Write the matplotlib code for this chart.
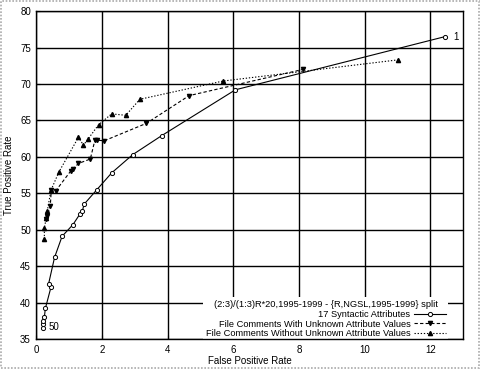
import matplotlib
matplotlib.use('Agg')
import matplotlib.pyplot as plt
from matplotlib.lines import Line2D
from matplotlib.patches import Rectangle

plt.rcParams['font.family'] = ['Liberation Sans', 'DejaVu Sans']
plt.rcParams['font.size'] = 7

# 17 Syntactic Attributes (solid, open circles)
syn_fp = [0.21, 0.21, 0.21, 0.24, 0.27, 0.44, 0.37, 0.55, 0.78, 1.11, 1.33, 1.40, 1.45,
          1.84, 2.29, 2.93, 3.81, 6.06, 12.45]
syn_tp = [36.5, 37.1, 37.5, 38.0, 39.2, 42.1, 42.6, 46.2, 49.1, 50.7, 52.2, 52.6, 53.5,
          55.5, 57.8, 60.3, 62.9, 69.2, 76.5]

# File Comments With Unknown Attribute Values (dashed, down triangles)
with_fp = [0.30, 0.33, 0.42, 0.45, 0.58, 1.05, 1.10, 1.28, 1.64, 1.78, 1.83, 2.06,
           3.35, 4.65, 8.12]
with_tp = [51.5, 51.9, 53.2, 55.4, 55.3, 58.1, 58.3, 59.1, 59.7, 62.3, 62.3, 62.2,
           64.6, 68.4, 72.0]

# File Comments Without Unknown Attribute Values (dotted, up triangles)
without_fp = [0.24, 0.24, 0.30, 0.33, 0.44, 0.68, 1.28, 1.43, 1.58, 1.89, 2.29, 2.72,
              3.15, 5.68, 11.0]
without_tp = [48.7, 50.3, 51.6, 52.6, 55.4, 57.9, 62.7, 61.6, 62.5, 64.4, 65.9, 65.7,
              67.9, 70.4, 73.3]

x_ticks = [0, 2, 4, 6, 8, 10, 12]
y_ticks = [35, 40, 45, 50, 55, 60, 65, 70, 75, 80]

fig = plt.figure(figsize=(4.8, 3.69), dpi=100)
ax = fig.add_axes([0.076, 0.081, 0.889, 0.889])

ax.plot(syn_fp, syn_tp, color='black', lw=0.8, marker='o', ms=3,
        mfc='white', mec='black', mew=0.7)
ax.plot(with_fp, with_tp, color='black', lw=0.8, ls=(0, (3, 2)), marker='v', ms=3,
        mfc='black', mec='black')
ax.plot(without_fp, without_tp, color='black', lw=0.8, ls=(0, (1.2, 1.6)), marker='^', ms=3,
        mfc='black', mec='black')

ax.annotate('1', (syn_fp[-1], syn_tp[-1]), xytext=(6, 0), textcoords='offset points',
            va='center', fontsize=7)
ax.annotate('50', (syn_fp[0], syn_tp[0]), xytext=(4, 1), textcoords='offset points',
            va='center', fontsize=7)

ax.set_xlim(0, 13)
ax.set_ylim(35, 80)
ax.set_xticks(x_ticks)
ax.set_yticks(y_ticks)
ax.tick_params(direction='in', length=3, width=0.8, labelsize=7, pad=4)
ax.grid(True, color='black', lw=1.0)
ax.set_axisbelow(True)
for s in ax.spines.values():
    s.set_linewidth(1.0)
    s.set_zorder(6)

ax.set_xlabel('False Positive Rate', fontsize=7, labelpad=1)
ax.set_ylabel('True Positive Rate', fontsize=7, labelpad=4)

handles = [
    Line2D([], [], color='black', lw=0.8, marker='o', ms=3, mfc='white', mew=0.7,
           label='17 Syntactic Attributes'),
    Line2D([], [], color='black', lw=0.8, ls=(0, (3, 2)), marker='v', ms=3,
           label='File Comments With Unknown Attribute Values'),
    Line2D([], [], color='black', lw=0.8, ls=(0, (1.2, 1.6)), marker='^', ms=3,
           label='File Comments Without Unknown Attribute Values'),
]
leg = ax.legend(handles=handles, loc='lower right', bbox_to_anchor=(0.968, -0.008),
                title='(2:3)/(1:3)R*20,1995-1999 - {R,NGSL,1995-1999} split',
                title_fontsize=6.7,
                markerfirst=False, frameon=True, fancybox=False, framealpha=1,
                edgecolor='none', facecolor='white', fontsize=6.7, handlelength=3.4,
                handletextpad=0.4, labelspacing=0.05, borderpad=0.25, borderaxespad=0.15)
for t in leg.get_texts():
    t.set_horizontalalignment('right')
leg._legend_box.sep = 1
leg.set_zorder(5)

fig.patches.append(Rectangle((0.002, 0.003), 0.996, 0.994, transform=fig.transFigure,
                             fill=False, edgecolor='#aaaaaa', lw=1.2, ls=(0, (1, 1))))

fig.savefig('out.png', dpi=100)
